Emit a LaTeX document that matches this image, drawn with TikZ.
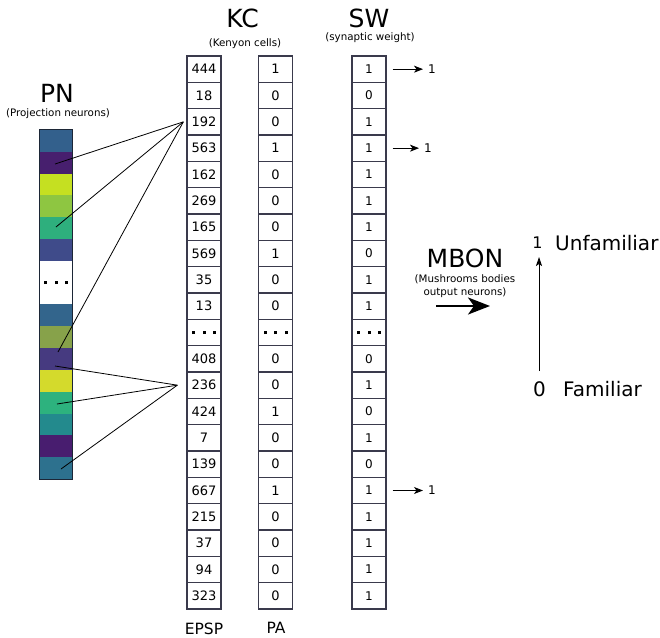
\documentclass[tikz,border=0pt]{standalone}
\usepackage{fontspec}
\setmainfont{DejaVu Sans}
\usetikzlibrary{arrows.meta,calc}
\definecolor{cellc}{HTML}{3A3A4C}
\definecolor{pnborder}{HTML}{1C2636}
\definecolor{pa}{HTML}{33608C}
\definecolor{pb}{HTML}{471F6E}
\definecolor{pc}{HTML}{C5E021}
\definecolor{pd}{HTML}{8EC641}
\definecolor{pe}{HTML}{2EAF7D}
\definecolor{pf}{HTML}{3F4B8A}
\definecolor{pg}{HTML}{33658C}
\definecolor{ph}{HTML}{87A24A}
\definecolor{pi}{HTML}{463A80}
\definecolor{pj}{HTML}{D4DA2C}
\definecolor{pk}{HTML}{2DB27E}
\definecolor{pl}{HTML}{238A8D}
\definecolor{pm}{HTML}{481D6F}
\definecolor{pn}{HTML}{2D718E}
\newcommand{\tridots}{\rule{3pt}{3pt}\hspace{7.5pt}\rule{3pt}{3pt}\hspace{7.5pt}\rule{3pt}{3pt}}
\begin{document}
\begin{tikzpicture}[x=1pt,y=-1pt,
  cell/.style={draw=cellc,line width=1.3pt,minimum width=34pt,minimum height=26.33pt,inner sep=0pt},
  kcfont/.style={font=\fontsize{13}{14}\selectfont},
  swfont/.style={font=\fontsize{12}{13}\selectfont},
  pnseg/.style={inner sep=0pt,minimum width=32pt,minimum height=21.81pt},
  title/.style={font=\fontsize{25}{27}\selectfont,anchor=base,inner sep=0pt},
  subtitle/.style={font=\fontsize{10.3}{13}\selectfont,anchor=base,inner sep=0pt},
  link/.style={black,line width=0.8pt},
  sarrow/.style={black,line width=0.8pt,-{Stealth[length=9pt,width=7pt,inset=2.5pt]}},
]
\useasboundingbox[fill=white] (0,0) rectangle (660,637);

% columns
\foreach \v [count=\i from 0] in {444,18,192,563,162,269,165,569,35,13,\tridots,408,236,424,7,139,667,215,37,94,323}
  \node[cell,kcfont] (kc\i) at (204,{56+26.333*(\i+0.5)}) {\v};
\foreach \v [count=\i from 0] in {1,0,0,1,0,0,0,1,0,0,\tridots,0,0,1,0,0,1,0,0,0,0}
  \node[cell,kcfont] (pa\i) at (275.5,{56+26.333*(\i+0.5)}) {\v};
\foreach \v [count=\i from 0] in {1,0,1,1,1,1,1,0,1,1,\tridots,0,1,0,1,0,1,1,1,1,1}
  \node[cell,swfont] (sw\i) at (369,{56+26.333*(\i+0.5)}) {\v};

% PN bar
\foreach \c/\s [count=\i] in {pa/0,pb/1,pc/2,pd/3,pe/4,pf/5,pg/8,ph/9,pi/10,pj/11,pk/12,pl/13,pm/14,pn/15}
  \node[pnseg,fill=\c] (pn\i) at (56,{130+21.81*(\s+0.5)}) {};
\node[pnseg,fill=white,minimum height=43.62pt] (pnw) at (56,{130+21.81*7}) {\tridots};
\draw[pnborder,line width=1.3pt] (pn1.north west) rectangle (pn14.south east);

% titles
\node[title] (kct) at (242.5,27) {KC};
\node[subtitle] (kcs) at (245,46) {(Kenyon cells)};
\node[title] (swt) at (369,27) {SW};
\node[subtitle] (sws) at (370,40) {(synaptic weight)};
\node[title] (pnt) at (57,102) {PN};
\node[subtitle] (pns) at (58,116) {(Projection neurons)};
\node[font=\fontsize{15.5}{16}\selectfont,anchor=base,inner sep=0pt] (epsp) at (204,634) {EPSP};
\node[font=\fontsize{15.5}{16}\selectfont,anchor=base,inner sep=0pt] (pal) at (276,633) {PA};

% PN -> KC links
\coordinate (k192) at ($(kc2.west)+(-3pt,0)$);
\coordinate (k236) at ($(kc12.west)+(-9pt,0)$);
\coordinate (e1) at (55,164);
\coordinate (e2) at (56,227);
\coordinate (e3) at (58,352);
\coordinate (e4) at (55,366);
\coordinate (e5) at (57,404);
\coordinate (e6) at (61,469);
\draw[link] (k192) -- (e1);
\draw[link] (k192) -- (e2);
\draw[link] (k192) -- (e3);
\draw[link] (k236) -- (e4);
\draw[link] (k236) -- (e5);
\draw[link] (k236) -- (e6);

% SW outputs
\node[swfont,inner sep=1pt] (o1) at (432,{56+26.333*0.5}) {1};
\node[swfont,inner sep=1pt] (o2) at (428,{56+26.333*3.5}) {1};
\node[swfont,inner sep=1pt] (o3) at (432,{56+26.333*16.5}) {1};
\draw[sarrow,shorten <=6pt,shorten >=4pt] (sw0.east) -- (o1.west);
\draw[sarrow,shorten <=6pt,shorten >=4pt] (sw3.east) -- (o2.west);
\draw[sarrow,shorten <=6pt,shorten >=4pt] (sw16.east) -- (o3.west);

% MBON
\node[title] (mbon) at (465,267) {MBON};
\node[subtitle,align=center,anchor=north] (mbons) at (465,274) {(Mushrooms bodies\\output neurons)};
\coordinate (ma) at (436,306);
\coordinate (mb) at (490,306);
\draw[black,line width=2.8pt,-{Stealth[length=22pt,width=17pt,inset=6pt]}] (ma) -- (mb);

% familiarity axis
\node[font=\fontsize{16}{17}\selectfont,anchor=base,inner sep=0pt] (one) at (537.5,248) {1};
\node[font=\fontsize{20}{22}\selectfont,anchor=base west,inner sep=0pt] (unf) at (555,250) {Unfamiliar};
\node[font=\fontsize{20}{22}\selectfont,anchor=base,inner sep=0pt] (zero) at (539.5,396) {0};
\node[font=\fontsize{20}{22}\selectfont,anchor=base west,inner sep=0pt] (fam) at (563,396) {Familiar};
\coordinate (ax0) at (539,371);
\coordinate (ax1) at (539,257);
\draw[black,line width=0.8pt,-{Stealth[length=9pt,width=6pt,inset=2pt]}] (ax0) -- (ax1);
\end{tikzpicture}
\end{document}
